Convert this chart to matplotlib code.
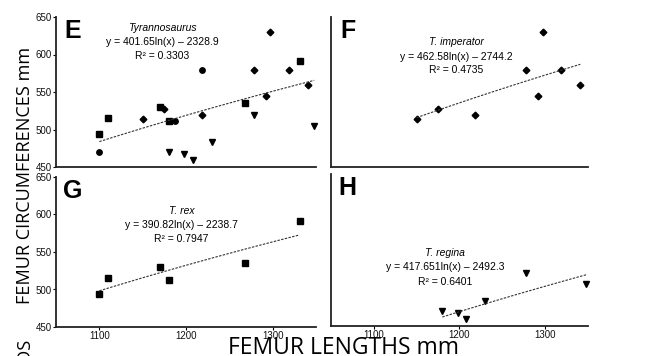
import numpy as np
import matplotlib
matplotlib.use("Agg")
import matplotlib.pyplot as plt

# データ
# F: T. imperator (ひし形)
imp_len = [1150, 1175, 1218, 1278, 1297, 1292, 1319, 1341]
imp_circ = [514, 527, 519, 580, 630, 545, 580, 559]
# G: T. rex (四角)
rex_len = [1100, 1110, 1170, 1180, 1268, 1331]
rex_circ = [494, 515, 530, 512, 535, 591]
# H: T. regina (三角)
reg_len = [1180, 1198, 1208, 1230, 1278, 1348]
reg_circ = [470, 467, 459, 483, 520, 505]
# E のみ: その他 (丸)
oth_len = [1100, 1187, 1218]
oth_circ = [470, 512, 580]

# 回帰式 y = a ln(x) + b
fits = {
    "E": (401.65, -2328.9, 0.3303, "Tyrannosaurus", "y = 401.65ln(x) \u2013 2328.9"),
    "F": (462.58, -2744.2, 0.4735, "T. imperator", "y = 462.58ln(x) \u2013 2744.2"),
    "G": (390.82, -2238.7, 0.7947, "T. rex", "y = 390.82ln(x) \u2013 2238.7"),
    "H": (417.651, -2492.3, 0.6401, "T. regina", "y = 417.651ln(x) \u2013 2492.3"),
}
# 注釈の位置 (データ座標: x, タイトルy, 式y, R2y)
ann_pos = {
    "E": (1173, 635, 617, 598),
    "F": (1196, 617, 597, 579),
    "G": (1195, 604, 586, 568),
    "H": (1183, 546, 527, 508),
}

plt.rcParams['font.family'] = ['Liberation Sans Narrow', 'Liberation Sans', 'DejaVu Sans']

fig = plt.figure(figsize=(6.6, 3.56), dpi=100)
W, H = 660, 356

def add_ax(x0, x1, ytop, ybot):
    return fig.add_axes([x0 / W, 1 - ybot / H, (x1 - x0) / W, (ybot - ytop) / H])

axE = add_ax(56, 316, 17, 167)
axF = add_ax(331, 588, 17, 167)
axG = add_ax(56, 316, 177, 327)
axH = add_ax(331, 588, 174, 326)

ms = dict(color='black', linestyle='none', clip_on=False)

def draw_points(ax, which):
    if which in ("E", "F"):
        ax.plot(imp_len, imp_circ, marker='D', markersize=3.4, **ms)
    if which in ("E", "G"):
        ax.plot(rex_len, rex_circ, marker='s', markersize=3.9, **ms)
    if which in ("E", "H"):
        ax.plot(reg_len, reg_circ, marker='v', markersize=5, **ms)
    if which == "E":
        ax.plot(oth_len, oth_circ, marker='o', markersize=3.9, **ms)

xs_all = {
    "E": imp_len + rex_len + reg_len + oth_len,
    "F": imp_len,
    "G": rex_len,
    "H": reg_len,
}

for ax, key in [(axE, "E"), (axF, "F"), (axG, "G"), (axH, "H")]:
    ax.set_xlim(1050, 1350)
    ax.set_ylim(450, 650)
    for s in ['top', 'right']:
        ax.spines[s].set_visible(False)
    for s in ['left', 'bottom']:
        ax.spines[s].set_linewidth(1.3)
        ax.spines[s].set_color('#222222')
    draw_points(ax, key)
    a, b, r2, name, eq = fits[key]
    xx = np.linspace(min(xs_all[key]), max(xs_all[key]), 100)
    ax.plot(xx, a * np.log(xx) + b, color='#333333', lw=0.8,
            linestyle=(0, (2.2, 1.2)), clip_on=False)
    tx, ty1, ty2, ty3 = ann_pos[key]
    ax.text(tx, ty1, name, ha='center', va='center', fontsize=7.5, style='italic')
    ax.text(tx, ty2, eq, ha='center', va='center', fontsize=7.5)
    ax.text(tx, ty3, "R\u00b2 = %.4f" % r2, ha='center', va='center', fontsize=7.5)
    ax.text(0.065, 0.985, key, transform=ax.transAxes, ha='center', va='top',
            fontsize=18, fontweight='bold', family=['Liberation Sans', 'DejaVu Sans'])
    ax.set_xticks([1100, 1200, 1300])
    ax.set_yticks([450, 500, 550, 600, 650])
    ax.tick_params(length=2, width=0.8, pad=1, labelsize=7, labelcolor='#111111')
    for lab in ax.get_xticklabels() + ax.get_yticklabels():
        lab.set_family(['Liberation Sans', 'DejaVu Sans'])

for ax in (axE, axF):
    ax.tick_params(axis='x', length=0, labelbottom=False)
for ax in (axF, axH):
    ax.tick_params(axis='y', length=0, labelleft=False)

fig.text(25 / W, 1 - 175 / H, "FEMUR CIRCUMFERENCES mm", rotation=90,
         ha='center', va='center', fontsize=13.1, family=['Open Sans', 'DejaVu Sans'])
fig.text(344 / W, 1 - 348 / H, "FEMUR LENGTHS mm", ha='center', va='center',
         fontsize=16.5, family=['Open Sans', 'DejaVu Sans'])
fig.text(25 / W, 1 - 338 / H, "ODS", rotation=90, ha='center', va='top',
         fontsize=13.1, family=['Open Sans', 'DejaVu Sans'])

fig.savefig("out.png", dpi=100)
